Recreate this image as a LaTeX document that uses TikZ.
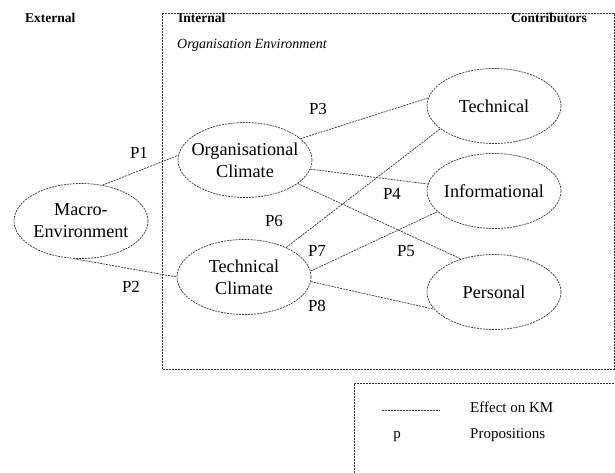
\documentclass[tikz,border=0pt]{standalone}
\usepackage{fontspec}
\setmainfont{Liberation Serif}
\usetikzlibrary{shapes.geometric}

\begin{document}
\begin{tikzpicture}[x=1pt, y=-1pt,
    blob/.style={shape=ellipse, draw=black!80, line width=0.7pt, dash pattern=on 2pt off 1pt,
                 minimum width=134pt, minimum height=75pt, inner sep=0pt},
    link/.style={draw=black!80, line width=0.7pt, dash pattern=on 2pt off 1pt}]
\tikzset{every label/.style={font=\fontsize{14}{17}\selectfont, scale=1.3, align=center}}
\tikzset{head/.style={font=\fontsize{13.5}{16}\selectfont\bfseries, inner sep=0pt},
         prop/.style={font=\fontsize{13}{16}\selectfont, scale=1.3, inner sep=0pt}}
%\tikzset{every node/.style={shape=ellipse,
%                            draw,
%                            minimum size=2cm
%                           }}
\useasboundingbox (0,0) rectangle (615,473);

% boxes
\draw[link] (162,13) rectangle (614,369);
\draw[link] (354,473) -- (354,383) -- (616,383);

% headings
\node[head, anchor=west] (ext) at (25,18) {External};
\node[head, anchor=west] (int) at (178,18) {Internal};
\node[head, anchor=east] (contr) at (587,18) {Contributors};
\node[anchor=west, inner sep=0pt, font=\fontsize{14}{16}\selectfont\itshape] (orgenv) at (177,45) {Organisation Environment};

% ellipses
\node[blob, label={center:Macro-\\Environment}] (macro) at (81,221) {};
\node[blob, label={center:Organisational\\Climate}] (org) at (245,160) {};
\node[blob, label={center:Technical\\Climate}] (tech) at (244,277) {};
\node[blob, label={center:Technical}] (ctech) at (494,106) {};
\node[blob, label={center:Informational}] (cinfo) at (494,191) {};
\node[blob, label={center:Personal}] (cpers) at (494,292) {};

% links
\draw[link] (macro.59) -- (org.176);
\draw[link] (macro.259) -- (tech.180);
\draw[link] (org.21) -- (ctech.173);
\draw[link] (org.-8) -- (cinfo.174);
\draw[link] (org.-24) -- (cpers.135);
\draw[link] (tech.35) -- (ctech.203);
\draw[link] (tech.5) -- (cinfo.200);
\draw[link] (tech.-4) -- (cpers.196);

% propositions
\node[prop] (p1) at (139,153) {P1};
\node[prop] (p2) at (131,287) {P2};
\node[prop] (p3) at (318,109) {P3};
\node[prop] (p4) at (392,194) {P4};
\node[prop] (p5) at (406,251) {P5};
\node[prop] (p6) at (274,221) {P6};
\node[prop] (p7) at (317,251) {P7};
\node[prop] (p8) at (317,306) {P8};

% legend
\coordinate (ka) at (382,410);
\coordinate (kb) at (440,410);
\draw[link] (ka) -- (kb);
\node[font=\fontsize{15}{26}\selectfont, inner sep=0pt] (kp) at (397,437) {p};
\node[font=\fontsize{15}{26}\selectfont, anchor=north west, align=left, inner sep=0pt] (ktext) at (470,402) {Effect on KM\\Propositions};
\end{tikzpicture}
\end{document}
